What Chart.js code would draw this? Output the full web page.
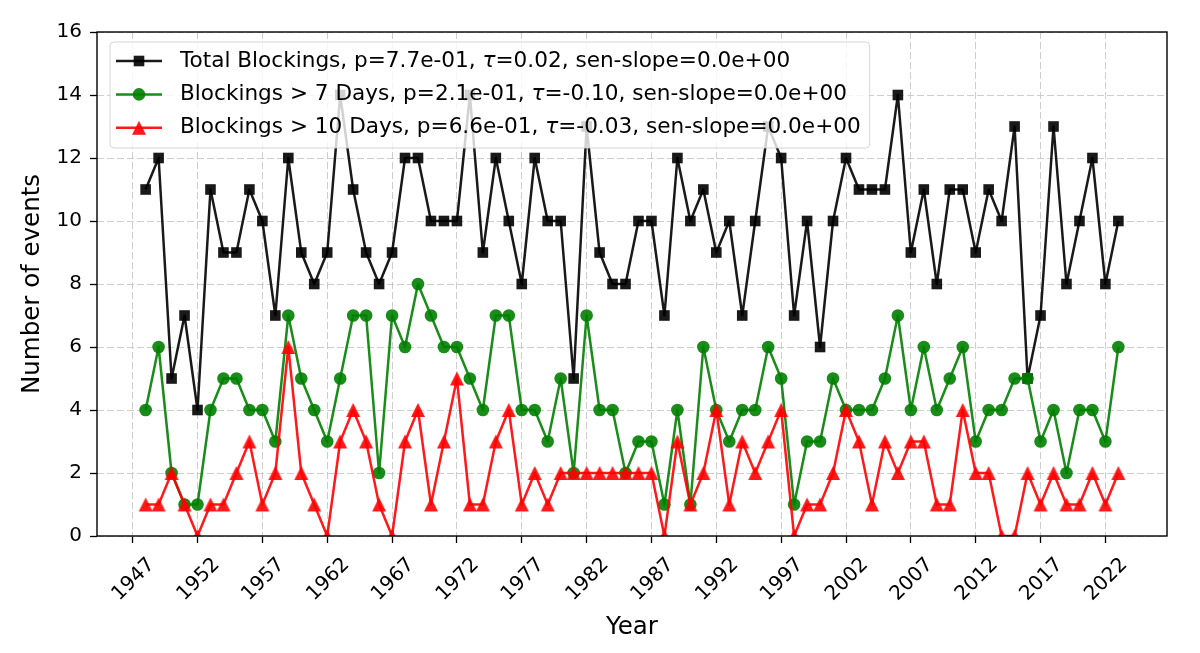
<!DOCTYPE html>
<html>
<head>
<meta charset="utf-8">
<script src="https://cdn.jsdelivr.net/npm/chart.js@4.4.1/dist/chart.umd.min.js"></script>
<style>
    html, body { margin: 0; padding: 0; background: #fff; }
    #wrap { width: 1200px; height: 653px; }
</style>
</head>
<body>
<div id="wrap"><canvas id="blockings" width="1200" height="653"></canvas></div>
<script>
// Data
const years = [
    1948, 1949, 1950, 1951, 1952, 1953, 1954, 1955, 1956, 1957,
    1958, 1959, 1960, 1961, 1962, 1963, 1964, 1965, 1966, 1967,
    1968, 1969, 1970, 1971, 1972, 1973, 1974, 1975, 1976, 1977,
    1978, 1979, 1980, 1981, 1982, 1983, 1984, 1985, 1986, 1987,
    1988, 1989, 1990, 1991, 1992, 1993, 1994, 1995, 1996, 1997,
    1998, 1999, 2000, 2001, 2002, 2003, 2004, 2005, 2006, 2007,
    2008, 2009, 2010, 2011, 2012, 2013, 2014, 2015, 2016, 2017,
    2018, 2019, 2020, 2021, 2022, 2023
];
const totalBlockings = [
    11, 12, 5, 7, 4, 11, 9, 9, 11, 10,
    7, 12, 9, 8, 9, 14, 11, 9, 8, 9,
    12, 12, 10, 10, 10, 14, 9, 12, 10, 8,
    12, 10, 10, 5, 13, 9, 8, 8, 10, 10,
    7, 12, 10, 11, 9, 10, 7, 10, 13, 12,
    7, 10, 6, 10, 12, 11, 11, 11, 14, 9,
    11, 8, 11, 11, 9, 11, 10, 13, 5, 7,
    13, 8, 10, 12, 8, 10
];
const over7Days = [
    4, 6, 2, 1, 1, 4, 5, 5, 4, 4,
    3, 7, 5, 4, 3, 5, 7, 7, 2, 7,
    6, 8, 7, 6, 6, 5, 4, 7, 7, 4,
    4, 3, 5, 2, 7, 4, 4, 2, 3, 3,
    1, 4, 1, 6, 4, 3, 4, 4, 6, 5,
    1, 3, 3, 5, 4, 4, 4, 5, 7, 4,
    6, 4, 5, 6, 3, 4, 4, 5, 5, 3,
    4, 2, 4, 4, 3, 6
];
const over10Days = [
    1, 1, 2, 1, 0, 1, 1, 2, 3, 1,
    2, 6, 2, 1, 0, 3, 4, 3, 1, 0,
    3, 4, 1, 3, 5, 1, 1, 3, 4, 1,
    2, 1, 2, 2, 2, 2, 2, 2, 2, 2,
    0, 3, 1, 2, 4, 1, 3, 2, 3, 4,
    0, 1, 1, 2, 4, 3, 1, 3, 2, 3,
    3, 1, 1, 4, 2, 2, 0, 0, 2, 1,
    2, 1, 1, 2, 1, 2
];
const xTickYears = [1947, 1952, 1957, 1962, 1967, 1972, 1977, 1982, 1987, 1992, 1997, 2002, 2007, 2012, 2017, 2022];
const yTicks = [0, 2, 4, 6, 8, 10, 12, 14, 16];

// Mann-Kendall stats shown in the legend
const seriesNames = ['Total Blockings', 'Blockings > 7 Days', 'Blockings > 10 Days'];
const pValues = ['7.7e-01', '2.1e-01', '6.6e-01'];
const taus = ['0.02', '-0.10', '-0.03'];
const senSlopes = ['0.0e+00', '0.0e+00', '0.0e+00'];

const FONT = "'DejaVu Sans', 'Liberation Sans', sans-serif";
const BLACK = 'rgba(0, 0, 0, 0.9)';
const GREEN = 'rgba(0, 128, 0, 0.9)';
const RED = 'rgba(255, 0, 0, 0.9)';

// matplotlib-style '^' marker (width == height, centred on the point)
const makeTriangle = (size, color) => {
    const c = document.createElement('canvas');
    c.width = size + 2;
    c.height = size + 2;
    const g = c.getContext('2d');
    g.fillStyle = color;
    g.beginPath();
    g.moveTo(1 + size / 2, 1);
    g.lineTo(1, 1 + size);
    g.lineTo(1 + size, 1 + size);
    g.closePath();
    g.fill();
    return c;
};
const redTriangle = makeTriangle(14, RED);

const toPoints = (vals) => years.map((y, i) => ({ x: y, y: vals[i] }));
const labels = seriesNames.map((n, i) =>
    `${n}, p=${pValues[i]}, τ=${taus[i]}, sen-slope=${senSlopes[i]}`);

// Legend drawn inside the axes, on top of the lines (like matplotlib)
const insideLegend = {
    id: 'insideLegend',
    afterDatasetsDraw(chart) {
        const { ctx, chartArea } = chart;
        const x0 = chartArea.left + 13;
        const y0 = chartArea.top + 10;
        const rowH = 33.4;
        const textX = x0 + 70;
        const normal = `21.6px ${FONT}`;
        const italic = `italic 21.6px ${FONT}`;

        const measure = (label) => {
            const parts = label.split('τ');
            ctx.font = normal;
            let w = ctx.measureText(parts[0]).width + ctx.measureText(parts[1]).width;
            ctx.font = italic;
            w += ctx.measureText('τ').width;
            return w;
        };
        const maxW = Math.max(...chart.data.datasets.map(d => measure(d.label)));
        const w = textX + maxW + 9 - x0;
        const h = 106;

        ctx.save();
        ctx.beginPath();
        ctx.roundRect(x0, y0, w, h, 4);
        ctx.fillStyle = 'rgba(255, 255, 255, 0.8)';
        ctx.fill();
        ctx.strokeStyle = 'rgba(204, 204, 204, 0.8)';
        ctx.lineWidth = 1;
        ctx.stroke();

        chart.data.datasets.forEach((ds, i) => {
            const cy = y0 + 19 + i * rowH;
            ctx.strokeStyle = ds.borderColor;
            ctx.lineWidth = ds.borderWidth;
            ctx.beginPath();
            ctx.moveTo(x0 + 6, cy);
            ctx.lineTo(x0 + 52, cy);
            ctx.stroke();
            const mx = x0 + 29;
            ctx.fillStyle = ds.pointBackgroundColor;
            if (ds.pointStyle === 'rect') {
                const s = ds.pointRadius * Math.SQRT1_2;
                ctx.fillRect(mx - s, cy - s, 2 * s, 2 * s);
            } else if (ds.pointStyle === 'circle') {
                ctx.beginPath();
                ctx.arc(mx, cy, ds.pointRadius, 0, Math.PI * 2);
                ctx.fill();
            } else {
                ctx.drawImage(ds.pointStyle, mx - ds.pointStyle.width / 2, cy - ds.pointStyle.height / 2);
            }

            const parts = ds.label.split('τ');
            ctx.fillStyle = '#000';
            ctx.textBaseline = 'middle';
            ctx.textAlign = 'left';
            let tx = textX;
            ctx.font = normal;
            ctx.fillText(parts[0], tx, cy);
            tx += ctx.measureText(parts[0]).width;
            ctx.font = italic;
            ctx.fillText('τ', tx, cy);
            tx += ctx.measureText('τ').width;
            ctx.font = normal;
            ctx.fillText(parts[1], tx, cy);
        });
        ctx.restore();
    }
};

// Full box round the axes
const axesFrame = {
    id: 'axesFrame',
    afterDraw(chart) {
        const { ctx, chartArea: a } = chart;
        ctx.save();
        ctx.strokeStyle = '#000';
        ctx.lineWidth = 1.4;
        ctx.strokeRect(a.left, a.top, a.right - a.left, a.bottom - a.top);
        ctx.restore();
    }
};

const gridStyle = {
    color: 'rgba(190, 190, 190, 0.75)',
    lineWidth: 1,
    tickColor: '#000',
    tickLength: 7,
    tickWidth: 1.3,
    tickBorderDash: []
};

new Chart(document.getElementById('blockings'), {
    type: 'line',
    data: {
        datasets: [
            {
                label: labels[0],
                data: toPoints(totalBlockings),
                borderColor: BLACK,
                backgroundColor: BLACK,
                pointBackgroundColor: BLACK,
                pointBorderColor: BLACK,
                pointStyle: 'rect',
                pointRadius: 7.5,
                pointBorderWidth: 0,
                borderWidth: 2.5,
                borderJoinStyle: 'round',
                order: 3
            },
            {
                label: labels[1],
                data: toPoints(over7Days),
                borderColor: GREEN,
                backgroundColor: GREEN,
                pointBackgroundColor: GREEN,
                pointBorderColor: GREEN,
                pointStyle: 'circle',
                pointRadius: 6.3,
                pointBorderWidth: 0,
                borderWidth: 2.5,
                borderJoinStyle: 'round',
                order: 2
            },
            {
                label: labels[2],
                data: toPoints(over10Days),
                borderColor: RED,
                backgroundColor: RED,
                pointBackgroundColor: RED,
                pointBorderColor: RED,
                pointStyle: redTriangle,
                pointRadius: 7,
                pointBorderWidth: 0,
                borderWidth: 2.5,
                borderJoinStyle: 'round',
                order: 1
            }
        ]
    },
    options: {
        responsive: false,
        animation: false,
        devicePixelRatio: 1,
        layout: { padding: { left: 0, right: 33, top: 32, bottom: 0 } },
        plugins: {
            legend: { display: false },
            tooltip: { enabled: false }
        },
        scales: {
            x: {
                type: 'linear',
                min: 1944.25,
                max: 2026.75,
                afterBuildTicks: (scale) => {
                    scale.ticks = xTickYears.map(v => ({ value: v }));
                },
                afterFit: (scale) => { scale.height = 117; },
                grid: gridStyle,
                border: { display: false, dash: [7, 3] },
                ticks: {
                    color: '#000',
                    font: { family: FONT, size: 20 },
                    minRotation: 45,
                    maxRotation: 45,
                    labelOffset: 19,
                    padding: 10,
                    callback: (v) => String(v)
                },
                title: {
                    display: true,
                    text: 'Year',
                    color: '#000',
                    font: { family: FONT, size: 24.5 },
                    padding: { top: 4, bottom: 11 }
                }
            },
            y: {
                min: 0,
                max: 16,
                afterBuildTicks: (scale) => {
                    scale.ticks = yTicks.map(v => ({ value: v }));
                },
                afterFit: (scale) => { scale.width = 97; },
                grid: gridStyle,
                border: { display: false, dash: [7, 3] },
                ticks: {
                    color: '#000',
                    font: { family: FONT, size: 20 },
                    padding: 8
                },
                title: {
                    display: true,
                    text: 'Number of events',
                    color: '#000',
                    font: { family: FONT, size: 24.5 },
                    padding: { top: 18, bottom: 4 }
                }
            }
        }
    },
    plugins: [insideLegend, axesFrame]
});
</script>
</body>
</html>
